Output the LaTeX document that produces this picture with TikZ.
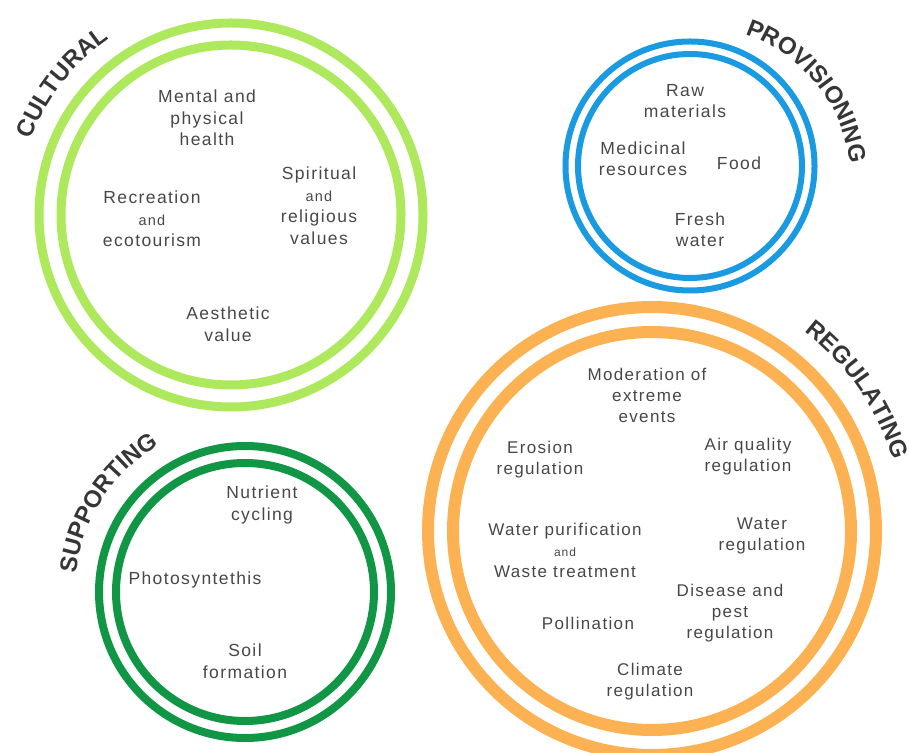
\documentclass[tikz,border=0pt]{standalone}
\usepackage{fontspec}
\setmainfont{Liberation Sans}
\newfontfamily\itemfont[LetterSpace=8]{Liberation Sans}
\newfontfamily\headfont{Liberation Sans}
\usetikzlibrary{decorations.text}

\definecolor{cultgreen}{HTML}{AEE85C}
\definecolor{provblue}{HTML}{1A9AE0}
\definecolor{regorange}{HTML}{FCB252}
\definecolor{suppgreen}{HTML}{109644}
\definecolor{itemgray}{HTML}{474747}
\definecolor{titlegray}{HTML}{363636}

\newcommand{\sand}[1][14.5]{{\fontsize{#1}{#1}\selectfont and}}
\newcommand{\titlefmt}{\headfont\bfseries\fontsize{24}{24}\selectfont\color{titlegray}}

\begin{document}
\begin{tikzpicture}[x=1pt, y=1pt]
	\tikzstyle{item}=[align=center, text=itemgray, font=\itemfont\fontsize{17.5}{21.5}\selectfont, inner sep=0pt]
	\tikzstyle{regitem}=[item, font=\itemfont\fontsize{17}{21}\selectfont]
	\tikzstyle{ring}=[line width=9pt]
	\useasboundingbox (0,0) rectangle (909,752);

	% centres of the four rings
	\coordinate (cult) at (231,537);
	\coordinate (prov) at (690,586);
	\coordinate (reg) at (652,221);
	\coordinate (supp) at (245,160);

	% double rings
	\draw[ring, cultgreen] (cult) circle[radius=192];
	\draw[ring, cultgreen] (cult) circle[radius=170];
	\draw[ring, provblue, line width=6pt] (prov) circle[radius=124.5];
	\draw[ring, provblue, line width=6pt] (prov) circle[radius=112];
	\draw[ring, regorange, line width=12pt] (reg) circle[radius=224];
	\draw[ring, regorange, line width=12pt] (reg) circle[radius=199];
	\draw[ring, suppgreen, line width=8pt] (supp) circle[radius=146];
	\draw[ring, suppgreen, line width=8pt] (supp) circle[radius=129];

	% headings bent round the rings
	\path[decorate, decoration={text along path, text align=center, text={|\titlefmt|CULTURAL}}]
		(cult) ++(178:214) arc[start angle=178, end angle=106, radius=214];
	\path[decorate, decoration={text along path, text align=center, text={|\titlefmt|PROVISIONING}}]
		(695,570) ++(79:156) arc[start angle=79, end angle=-1, radius=156];
	\path[decorate, decoration={text along path, text align=center, text={|\titlefmt|REGULATING}}]
		(reg) ++(59:251) arc[start angle=59, end angle=10, radius=251];
	\path[decorate, decoration={text along path, text align=center, text={|\titlefmt|SUPPORTING}}]
		(supp) ++(181:170) arc[start angle=181, end angle=113, radius=170];

	% cultural
	\node[item] (mental) at (207,634) {Mental and\\physical\\health};
	\node[item] (recre) at (152,533) {Recreation\\\sand\\ecotourism};
	\node[item] (spirit) at (319,546) {Spiritual\\\sand\\religious\\values};
	\node[item] (aesth) at (228,428) {Aesthetic\\value};

	% provisioning
	\node[item] (raw) at (685,651) {Raw\\materials};
	\node[item] (medic) at (643,593) {Medicinal\\resources};
	\node[item] (food) at (739,589) {Food};
	\node[item] (fresh) at (700,522) {Fresh\\water};

	% regulating
	\node[regitem] (moder) at (647,357) {Moderation of\\extreme\\events};
	\node[regitem] (erosion) at (540,292) {Erosion\\regulation};
	\node[regitem] (air) at (748,295) {Air quality\\regulation};
	\node[regitem] (purif) at (565,202) {Water purification\\\sand[12]\\Waste treatment};
	\node[regitem] (waterreg) at (762,216) {Water\\regulation};
	\node[regitem] (disease) at (730,139) {Disease and\\pest\\regulation};
	\node[regitem] (pollin) at (588,129) {Pollination};
	\node[regitem] (climate) at (650,70) {Climate\\regulation};

	% supporting
	\node[item] (nutri) at (262,247) {Nutrient\\cycling};
	\node[item] (photo) at (195,172) {Photosyntethis};
	\node[item] (soil) at (245,91) {Soil\\formation};
\end{tikzpicture}
\end{document}
